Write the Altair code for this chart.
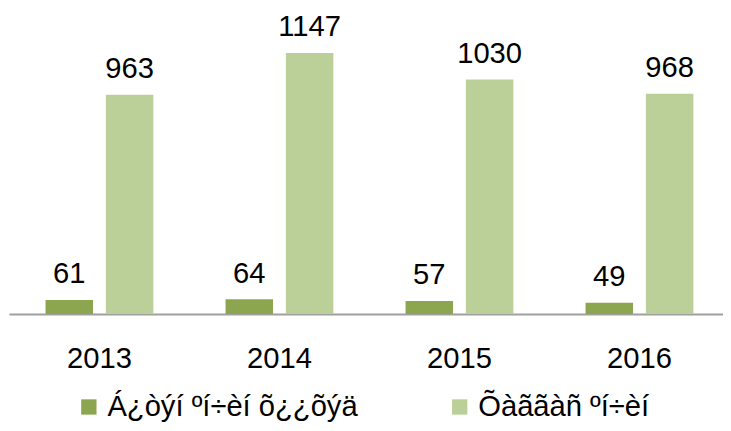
import altair as alt
import pandas as pd

years = ["2013", "2014", "2015", "2016"]
series = ["Á¿òýí ºí÷èí õ¿¿õýä", "Õàããàñ ºí÷èí"]
values_a = [61, 64, 57, 49]
values_b = [963, 1147, 1030, 968]
colors = ["#8BA64F", "#BBCF99"]

rows = []
for i, y in enumerate(years):
    rows.append({"year": y, "series": series[0], "value": values_a[i]})
    rows.append({"year": y, "series": series[1], "value": values_b[i]})
df = pd.DataFrame(rows)

FONT = "Liberation Sans"
FS = 29.5

x = alt.X("year:N", sort=years,
          scale=alt.Scale(range=[-1, 728], paddingInner=0.401, paddingOuter=0.203),
          axis=alt.Axis(title=None, labelAngle=0, labelFont=FONT, labelFontSize=FS,
                        labelColor="#000000", labelBaseline="alphabetic", labelPadding=54,
                        ticks=False, tickSize=0, domainColor="#A0A0A0", domainWidth=2,
                        grid=False))
xo = alt.XOffset("series:N", sort=series,
                 scale=alt.Scale(paddingInner=0.213, paddingOuter=0))
y = alt.Y("value:Q", scale=alt.Scale(domain=[0, 1200]), axis=None)

bars = alt.Chart(df).mark_bar().encode(
    x=x, xOffset=xo, y=y,
    color=alt.Color("series:N", sort=series,
                    scale=alt.Scale(domain=series, range=colors),
                    legend=alt.Legend(title=None, orient="none", direction="horizontal",
                                      legendX=65, legendY=355, padding=0,
                                      symbolType="square", symbolSize=240,
                                      symbolStrokeWidth=0, symbolOpacity=1,
                                      labelFont=FONT, labelFontSize=FS,
                                      labelColor="#000000", labelOffset=4,
                                      columnPadding=88, labelLimit=400)),
)

labels = alt.Chart(df).mark_text(
    font=FONT, fontSize=FS, color="#000000", baseline="alphabetic", dy=-17
).encode(x=x, xOffset=xo, y=y, text=alt.Text("value:Q"))

chart = alt.layer(bars, labels).properties(
    width=713, height=276,
    autosize=alt.AutoSizeParams(type="none"),
    padding={"left": 2, "top": 31, "right": 8, "bottom": 108},
).configure_view(stroke=None)

chart.save("out.html", embed_options={"renderer": "svg", "actions": False})
